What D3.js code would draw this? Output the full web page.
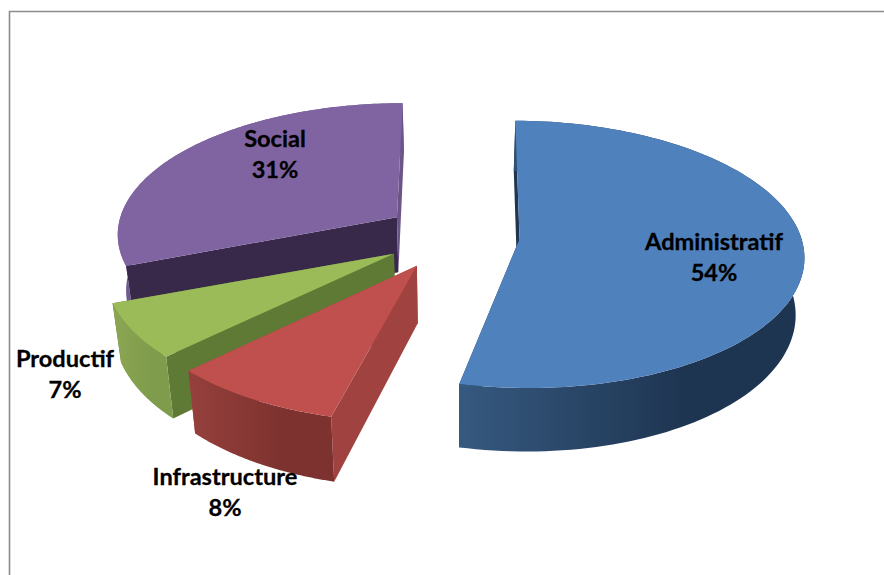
<!DOCTYPE html>
<html>
<head>
<meta charset="utf-8">
<script src="https://cdn.jsdelivr.net/npm/d3@7/dist/d3.min.js"></script>
<style>
html,body{margin:0;padding:0;background:#fff;overflow:hidden}
svg{display:block}
text{font-family:Lato,"Open Sans",sans-serif;font-weight:700;fill:#000;stroke:#000;stroke-width:.3;text-anchor:middle}
</style>
</head>
<body>
<svg id="c" width="884" height="575"></svg>
<script>
// data
const categories = ["Administratif", "Infrastructure", "Productif", "Social"];
const values = [54, 8, 7, 31];
const labels = ["54%", "8%", "7%", "31%"];

// styles and layout
const topColors = ["#4f81bd", "#c0504d", "#9bbb59", "#8064a2"];
const wallStops = [["#36597f", "#1e3552"], ["#96403c", "#7d322f"], ["#8ba653", "#7f9c4c"], ["#6f5790", "#6f5790"]];
const cutStart = ["#1f3550", "#a0423f", "#5f7a35", "#38284a"];
const cutEnd = ["#1f3550", "#a0423f", "#5f7a35", "#6b5488"];
const labelPos = [[714, 243], [225, 478], [65, 360], [275, 140]];
const explodes = [0.238, 0.26, 0.25, 0.245];
const angleTrim = [[0.6, -1.9], [0, 2.5], [2.5, 1], [0, 0]];
const W = 884, H = 575;
const center = [453, 235], radius = [281, 131];
const persp = 0.115, depth = 56, shrink = 0.975;

const svg = d3.select("#c");
const defs = svg.append("defs");
const xs = d3.scaleLinear().domain([-1, 1]).range([center[0] - radius[0], center[0] + radius[0]]);
const ys = d3.scaleLinear().domain([-1, 1]).range([center[1] - radius[1], center[1] + radius[1]]);
const deg = Math.PI / 180;

// frame
svg.append("path").attr("d", `M9.5 ${H}V11.5H${W}`).attr("fill", "none").attr("stroke", "#8c8c8c").attr("stroke-width", 1.6);

const pie = d3.pie().sort(null).value(d => d);
const arcs = pie(values);

function project(X, V, low) {
  const s = 1 / (1 - persp * V);
  let x = xs(X * s), y = ys(V * s);
  if (low) { x = center[0] + (x - center[0]) * shrink; y += depth * s; }
  return [x, y];
}
const line = d3.line();

arcs.forEach((d, i) => {
  const g = defs.append("linearGradient").attr("id", "w" + i);
  g.append("stop").attr("offset", "0%").attr("stop-color", wallStops[i][0]);
  g.append("stop").attr("offset", "65%").attr("stop-color", wallStops[i][1]);
});

[3, 2, 1, 0].forEach(i => {
  const d = arcs[i];
  const a0 = d.startAngle + angleTrim[i][0] * deg, a1 = d.endAngle + angleTrim[i][1] * deg;
  const mid = (d.startAngle + d.endAngle) / 2;
  const e = explodes[i];
  const plane = (a, r) => [e * Math.sin(mid) + r * Math.sin(a), -e * Math.cos(mid) - r * Math.cos(a)];
  const angles = d3.range(0, 121).map(t => a0 + (a1 - a0) * t / 120);
  const rim = low => angles.map(a => { const p = plane(a, 1); return project(p[0], p[1], low); });
  const ap = plane(0, 0);
  const apexT = project(ap[0], ap[1], false), apexB = project(ap[0], ap[1], true);
  const rimT = rim(false), rimB = rim(true);
  const g = svg.append("g").attr("class", "slice");
  const drawWall = () => g.append("path").attr("d", line(rimT.concat(rimB.slice().reverse())) + "Z").attr("fill", `url(#w${i})`);
  const pointsAway = Math.cos(mid) > 0;
  if (pointsAway) drawWall();
  g.append("path").attr("d", line([apexT, rimT[0], rimB[0], apexB]) + "Z").attr("fill", cutStart[i]);
  g.append("path").attr("d", line([apexT, rimT[120], rimB[120], apexB]) + "Z").attr("fill", cutEnd[i]);
  if (!pointsAway) drawWall();
  g.append("path").attr("d", line([apexT].concat(rimT)) + "Z").attr("fill", topColors[i]);
});

// labels
categories.forEach((c, i) => {
  svg.append("text").attr("x", labelPos[i][0]).attr("y", labelPos[i][1] + 7).attr("font-size", 23.6).text(c);
  svg.append("text").attr("x", labelPos[i][0]).attr("y", labelPos[i][1] + 38).attr("font-size", 23.6).text(labels[i]);
});
</script>
</body>
</html>
